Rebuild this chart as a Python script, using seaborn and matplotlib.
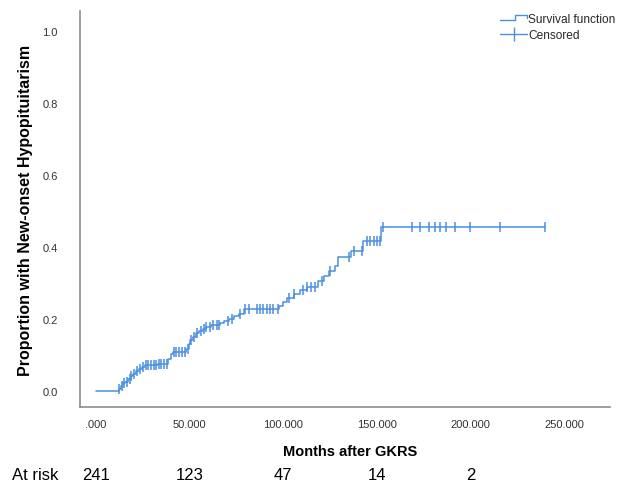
import numpy as np
import pandas as pd
import seaborn as sns
import matplotlib
matplotlib.use("Agg")
import matplotlib.pyplot as plt
from matplotlib.lines import Line2D
from matplotlib.legend_handler import HandlerBase
from matplotlib.transforms import blended_transform_factory

# Kaplan-Meier style cumulative incidence of new-onset hypopituitarism
event_months = [12.5, 13.5, 14.5, 15.5, 17.0, 18.5, 20.0, 21.5, 23.0, 24.5, 26.0,
                33.0, 38.5, 40.0, 41.0, 48.0, 49.5, 50.5, 52.0, 53.5, 55.0, 57.0,
                59.0, 61.5, 66.5, 68.5, 71.0, 74.0, 76.5, 79.0, 98.0, 100.0, 102.0,
                106.0, 109.0, 113.0, 118.5, 122.0, 124.5, 127.5, 129.5, 136.0,
                142.5, 152.5]
cum_incidence = [0.005, 0.013, 0.021, 0.026, 0.034, 0.042, 0.047, 0.055, 0.060,
                 0.066, 0.072, 0.076, 0.088, 0.103, 0.108, 0.118, 0.130, 0.142,
                 0.150, 0.160, 0.166, 0.172, 0.178, 0.182, 0.188, 0.195, 0.201,
                 0.207, 0.214, 0.228, 0.236, 0.247, 0.258, 0.270, 0.280, 0.290,
                 0.305, 0.320, 0.332, 0.347, 0.372, 0.390, 0.417, 0.455]
censored_months = [12.5, 14.0, 15.0, 16.5, 18.0, 19.0, 20.5, 22.0, 23.5, 25.0,
                   26.5, 28.0, 29.5, 31.0, 32.0, 33.5, 35.0, 36.5, 38.0, 41.5,
                   43.0, 44.5, 46.0, 47.5, 49.0, 51.0, 52.5, 54.0, 56.0, 57.5,
                   59.0, 61.0, 62.5, 64.5, 66.0, 70.5, 72.5, 77.0, 79.5, 82.0,
                   86.0, 87.5, 89.0, 91.5, 93.0, 94.5, 97.5, 103.0, 106.0, 110.5,
                   113.0, 114.8, 117.0, 121.0, 125.0, 135.0, 138.0, 142.0, 144.7,
                   146.3, 148.5, 150.0, 152.0, 153.5, 169.0, 173.0, 178.0, 181.0,
                   184.0, 187.0, 192.0, 200.0, 216.0, 240.0]

at_risk_months = [0, 50, 100, 150, 200]
at_risk_counts = [241, 123, 47, 14, 2]

x_ticks = [0, 50, 100, 150, 200, 250]
x_tick_labels = [".000", "50.000", "100.000", "150.000", "200.000", "250.000"]
y_ticks = [0.0, 0.2, 0.4, 0.6, 0.8, 1.0]
y_tick_labels = ["0.0", "0.2", "0.4", "0.6", "0.8", "1.0"]

LINE_COLOR = "#4a8fe0"
SPINE_COLOR = "#8c8c8c"
TEXT_COLOR = "#333333"

sns.set_style("white")
plt.rcParams["font.family"] = ["Liberation Sans", "DejaVu Sans"]

# step curve from time zero to the last follow-up
curve_t = np.array([0.0] + event_months + [max(censored_months)])
curve_y = np.array([0.0] + cum_incidence + [cum_incidence[-1]])
curve = pd.DataFrame({"months": curve_t, "proportion": curve_y})

idx = np.searchsorted(curve_t[:-1], censored_months, side="right") - 1
censored = pd.DataFrame({"months": censored_months, "proportion": curve_y[idx]})

fig = plt.figure(figsize=(6.25, 4.85), dpi=100)
ax = fig.add_axes([0.128, 0.1588, 0.848, 0.8165])

sns.lineplot(data=curve, x="months", y="proportion", ax=ax, estimator=None,
             sort=False, drawstyle="steps-post", color=LINE_COLOR, linewidth=1.1)
sns.scatterplot(data=censored, x="months", y="proportion", ax=ax, marker="|",
                s=55, linewidth=1.1, color=LINE_COLOR, zorder=3)

ax.set_xlim(-8.5, 274.6)
ax.set_ylim(-0.0444, 1.0556)
ax.set_xticks(x_ticks)
ax.set_xticklabels(x_tick_labels)
ax.set_yticks(y_ticks)
ax.set_yticklabels(y_tick_labels)
ax.tick_params(axis="both", length=0, labelsize=8, labelcolor=TEXT_COLOR)
ax.tick_params(axis="x", pad=9)
ax.tick_params(axis="y", pad=16)

for side in ("top", "right"):
    ax.spines[side].set_visible(False)
for side in ("left", "bottom"):
    ax.spines[side].set_color(SPINE_COLOR)
    ax.spines[side].set_linewidth(1.2)

ax.set_xlabel("")
ax.set_ylabel("Proportion with New-onset Hypopituitarism", fontsize=11.5,
              fontweight="bold", color="black", labelpad=7)

fig.text(0.56, 1 - 452 / 485, "Months after GKRS", ha="center", va="center",
         fontsize=10.5, fontweight="bold", color="black")

# number-at-risk row under the x axis
row_y = 1 - 476 / 485
fig.text(12 / 625, row_y, "At risk", ha="left", va="center", fontsize=12,
         color="black")
row_tf = blended_transform_factory(ax.transData, fig.transFigure)
for m, n in zip(at_risk_months, at_risk_counts):
    ax.text(m, row_y, str(n), transform=row_tf, ha="center", va="center",
            fontsize=12, color="black", clip_on=False)


class StepHandler(HandlerBase):
    def create_artists(self, legend, orig_handle, xdescent, ydescent, width,
                       height, fontsize, trans):
        x0 = -xdescent
        lo = -ydescent + height * 0.25
        hi = -ydescent + height * 0.85
        xs = [x0, x0 + width * 0.55, x0 + width * 0.55, x0 + width, x0 + width]
        ys = [lo, lo, hi, hi, hi - height * 0.35]
        line = Line2D(xs, ys, color=orig_handle.get_color(),
                      linewidth=orig_handle.get_linewidth())
        line.set_transform(trans)
        return [line]


surv_handle = Line2D([], [], color=LINE_COLOR, linewidth=1.0)
cens_handle = Line2D([], [], color=LINE_COLOR, linewidth=1.0, marker="|",
                     markersize=10, markeredgewidth=1.0)
fig.legend([surv_handle, cens_handle], ["Survival function", "Censored"],
           handler_map={surv_handle: StepHandler()},
           loc="upper left", bbox_to_anchor=(498 / 625, 1 - 12 / 485),
           frameon=False, fontsize=8.6, handlelength=2.2, handletextpad=0.15,
           labelspacing=0.3, numpoints=1, borderpad=0.2, borderaxespad=0)

fig.savefig("out.png", dpi=100)
